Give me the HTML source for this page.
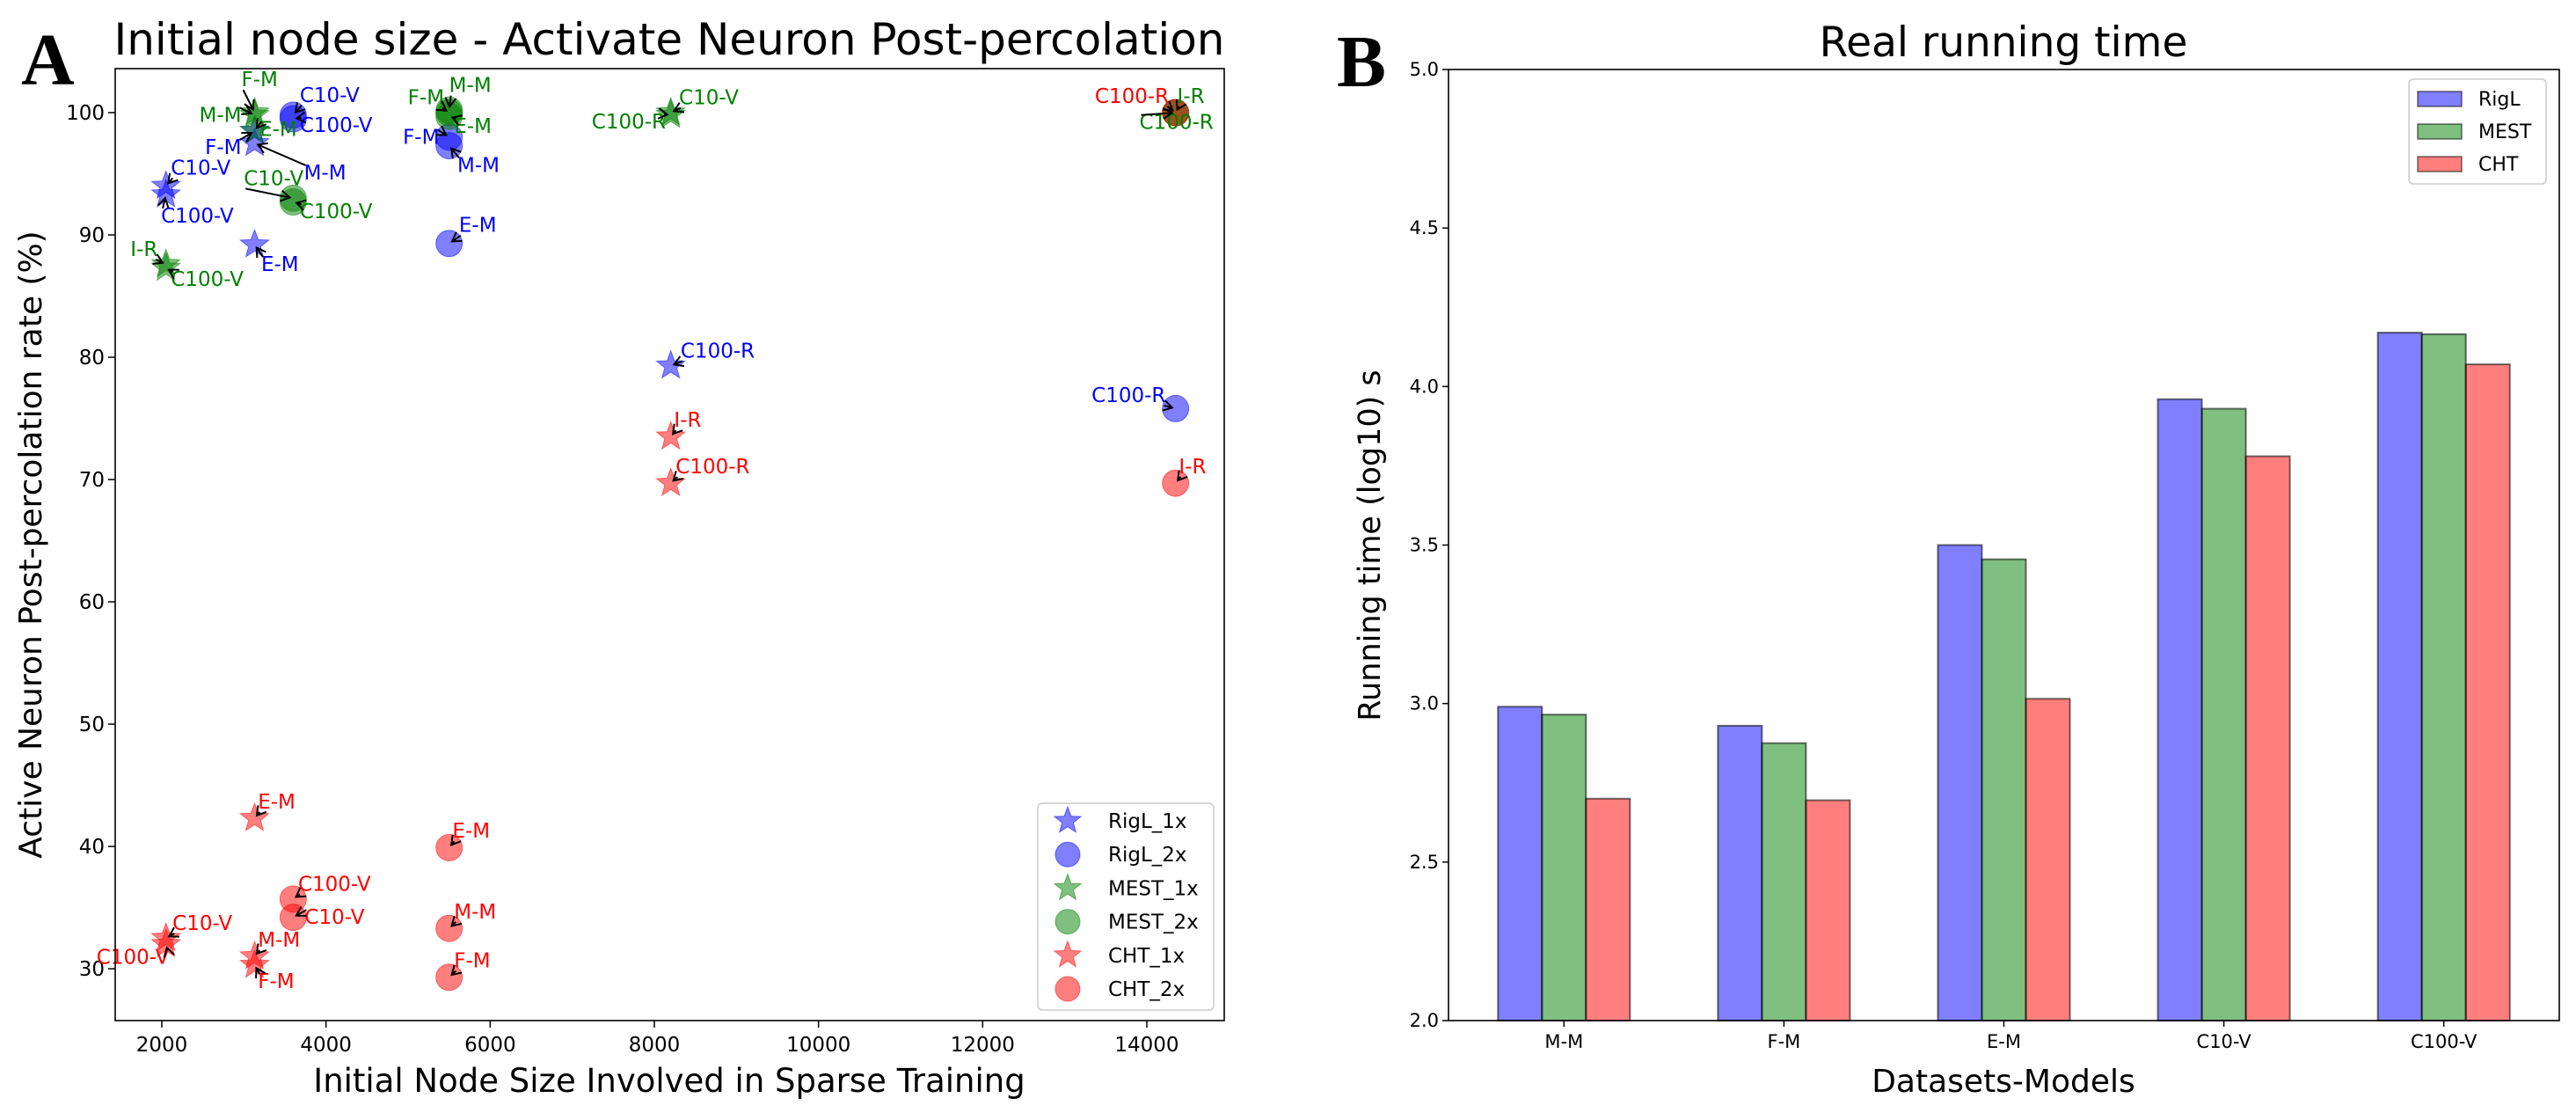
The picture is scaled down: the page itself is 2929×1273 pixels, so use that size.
<!DOCTYPE html>
<html><head><meta charset="utf-8">
<style>
html,body{margin:0;padding:0;background:#fff;}
svg{display:block;font-family:"DejaVu Sans","Liberation Sans",sans-serif;}
</style></head>
<body>
<svg id="fig" width="2929" height="1273" viewBox="0 0 2929 1273" xmlns="http://www.w3.org/2000/svg">
<rect width="2929" height="1273" fill="#fff"/>
<g id="panelA"></g>
<g id="panelB"></g>
</svg>
<script>
// ---------- Panel A data ----------
const seriesNames = ["RigL_1x","RigL_2x","MEST_1x","MEST_2x","CHT_1x","CHT_2x"];
const rigl1X = [2050,2050,3130,3130,3130,8200];
const rigl1Y = [94.0,93.3,98.5,97.5,89.2,79.3];
const rigl1L = ["C10-V","C100-V","F-M","M-M","E-M","C100-R"];
const rigl2X = [3600,3600,5500,5500,5500,14350];
const rigl2Y = [99.8,99.5,98.0,97.3,89.3,75.8];
const rigl2L = ["C10-V","C100-V","F-M","M-M","E-M","C100-R"];
const mest1X = [3130,3130,3130,2050,2050,8200,8200];
const mest1Y = [99.8,100.0,98.5,87.6,87.3,100.0,99.8];
const mest1L = ["M-M","F-M","E-M","I-R","C100-V","C10-V","C100-R"];
const mest2X = [5500,5500,5500,3600,3600,14350,14350];
const mest2Y = [100.2,100.0,99.7,93.0,92.7,100.0,100.0];
const mest2L = ["M-M","F-M","E-M","C10-V","C100-V","I-R","C100-R"];
const cht1X = [8200,8200,3130,2050,2050,3130,3130];
const cht1Y = [73.5,69.7,42.3,32.5,32.0,31.0,30.3];
const cht1L = ["I-R","C100-R","E-M","C10-V","C100-V","M-M","F-M"];
const cht2X = [14350,14350,5500,3600,3600,5500,5500];
const cht2Y = [100.0,69.7,39.9,35.7,34.2,33.3,29.3];
const cht2L = ["C100-R","I-R","E-M","C100-V","C10-V","M-M","F-M"];
const xTicksA = [2000,4000,6000,8000,10000,12000,14000];
const yTicksA = [30,40,50,60,70,80,90,100];

// ---------- Panel B data ----------
const categories = ["M-M","F-M","E-M","C10-V","C100-V"];
const riglTime = [2.99,2.93,3.50,3.96,4.17];
const mestTime = [2.965,2.875,3.455,3.93,4.165];
const chtTime = [2.70,2.695,3.015,3.78,4.07];
const yTicksB = [2.0,2.5,3.0,3.5,4.0,4.5,5.0];

const NS="http://www.w3.org/2000/svg";
function mk(parent,tag,attrs,text){const e=document.createElementNS(NS,tag);for(const k in attrs)e.setAttribute(k,attrs[k]);if(text!==undefined)e.textContent=text;parent.appendChild(e);return e;}

// ===== Panel A =====
const A=document.getElementById('panelA');
const aL=131,aR=1392,aT=78,aB=1160;
const xMinA=1432,xMaxA=14943,yMinA=25.76,yMaxA=103.6;
const sxA=v=>aL+(v-xMinA)/(xMaxA-xMinA)*(aR-aL);
const syA=v=>aB-(v-yMinA)/(yMaxA-yMinA)*(aB-aT);

function starPath(cx,cy,R){const r=R*0.42;let d="";for(let i=0;i<10;i++){const rr=i%2?r:R;const a=-Math.PI/2+i*Math.PI/5;d+=(i?"L":"M")+(cx+rr*Math.cos(a)).toFixed(1)+","+(cy+rr*Math.sin(a)).toFixed(1);}return d+"Z";}

let t;
t=mk(A,'text',{x:761,y:62,'font-size':50,'text-anchor':'middle',fill:'#000'},"Initial node size - Activate Neuron Post-percolation");

t=mk(A,'text',{x:24,y:96,'font-size':84,'font-weight':'bold','font-family':'"Liberation Serif",serif',fill:'#000'},"A");


xTicksA.forEach(v=>{const x=sxA(v);
 const l=mk(A,'line',{x1:x,x2:x,y1:aB,y2:aB+8,stroke:'#000','stroke-width':1.5});
 
 const tx=mk(A,'text',{x:x,y:aB+35,'font-size':23,'text-anchor':'middle'},String(v));
 });
yTicksA.forEach(v=>{const y=syA(v);
 const l=mk(A,'line',{x1:aL-8,x2:aL,y1:y,y2:y,stroke:'#000','stroke-width':1.5});
 
 const tx=mk(A,'text',{x:aL-12,y:y+8,'font-size':23,'text-anchor':'end'},String(v));
 });
t=mk(A,'text',{x:761,y:1241,'font-size':37,'text-anchor':'middle'},"Initial Node Size Involved in Sparse Training");

t=mk(A,'text',{x:0,y:0,'font-size':36,'text-anchor':'middle',transform:'translate(47,619) rotate(-90)'},"Active Neuron Post-percolation rate (%)");


// label offsets (display units, scaled by 1.87), anchor
const offR1=[[3,-7,'start'],[-3,17,'start'],[-8,14,'end'],[30,22,'start'],[4,16,'start'],[6,-5,'start']];
const offR2=[[4,-8,'start'],[4,8,'start'],[-6,4,'end'],[5,16,'start'],[6,-7,'start'],[-6,-4,'end']];
const offM1=[[-8,4,'end'],[-8,-16,'start'],[3,3,'start'],[-5,-5,'end'],[3,11,'start'],[5,-5,'start'],[-3,8,'end']];
const offM2=[[0,-11,'start'],[-3,-5,'end'],[3,10,'start'],[-30,-8,'start'],[4,10,'start'],[1,-6,'start'],[-22,10,'start']];
const offC1=[[2,-6,'start'],[3,-6,'start'],[2,-6,'start'],[4,-5,'start'],[2,12,'end'],[2,-6,'start'],[2,14,'start']];
const offC2=[[-4,-6,'end'],[2,-6,'start'],[2,-6,'start'],[3,-5,'start'],[7,4,'start'],[3,-6,'start'],[3,-6,'start']];

const seriesA=[
 {n:"RigL_1x",x:rigl1X,y:rigl1Y,l:rigl1L,o:offR1,star:true,fill:'rgba(0,0,255,0.5)',tc:'#0000ff'},
 {n:"RigL_2x",x:rigl2X,y:rigl2Y,l:rigl2L,o:offR2,star:false,fill:'rgba(0,0,255,0.5)',tc:'#0000ff'},
 {n:"MEST_1x",x:mest1X,y:mest1Y,l:mest1L,o:offM1,star:true,fill:'rgba(0,128,0,0.5)',tc:'#008000'},
 {n:"MEST_2x",x:mest2X,y:mest2Y,l:mest2L,o:offM2,star:false,fill:'rgba(0,128,0,0.5)',tc:'#008000'},
 {n:"CHT_1x",x:cht1X,y:cht1Y,l:cht1L,o:offC1,star:true,fill:'rgba(255,0,0,0.5)',tc:'#ff0000'},
 {n:"CHT_2x",x:cht2X,y:cht2Y,l:cht2L,o:offC2,star:false,fill:'rgba(255,0,0,0.5)',tc:'#ff0000'}];

const marks=mk(A,'g',{});
const labels=mk(A,'g',{});
seriesA.forEach(s=>{
 s.x.forEach((xv,i)=>{
  const cx=sxA(xv),cy=syA(s.y[i]);
  let m;
  if(s.star){m=mk(marks,'path',{d:starPath(cx,cy,17),fill:s.fill,stroke:s.fill,'stroke-width':1});}
  else{m=mk(marks,'circle',{cx:cx,cy:cy,r:15,fill:s.fill,stroke:s.fill,'stroke-width':1});}
  
  
  const o=s.o[i]||[3,-6,'start'];
  const tx=cx+o[0]*1.87,ty=cy+o[1]*1.87;
  const lab=mk(labels,'text',{x:tx,y:ty,'font-size':23,'text-anchor':o[2],fill:s.tc},s.l[i]);
  
  
  const ax=tx+(o[2]==='end'?-2:2),ay=ty+(o[1]<0?4:-16);
  const dx=cx-ax,dy=cy-ay,len=Math.hypot(dx,dy)||1;
  const ex=cx-dx/len*4,ey=cy-dy/len*4;
  const ar=mk(labels,'line',{x1:ax,y1:ay,x2:ex,y2:ey,stroke:'#000','stroke-width':2});
  
  
  const ux=dx/len,uy=dy/len,hx=ex-ux*10,hy=ey-uy*10;
  const ah=mk(labels,'polyline',{points:`${hx-uy*6},${hy+ux*6} ${ex},${ey} ${hx+uy*6},${hy-ux*6}`,fill:'none',stroke:'#000','stroke-width':2});
  
  
 });
});
t=mk(A,'rect',{x:aL,y:aT,width:aR-aL,height:aB-aT,fill:'none',stroke:'#000','stroke-width':1.6});


// legend A
const legA=mk(A,'g',{});

mk(legA,'rect',{x:1180,y:913,width:200,height:235,rx:5,fill:'rgba(255,255,255,0.8)',stroke:'#ccc','stroke-width':1.5});
seriesA.forEach((s,i)=>{const y=933+i*38.2;
 const g=mk(legA,'g',{});
 
 if(s.star)mk(g,'path',{d:starPath(1214,y,16),fill:s.fill,stroke:s.fill});
 else mk(g,'circle',{cx:1214,cy:y,r:14,fill:s.fill,stroke:s.fill});
 mk(g,'text',{x:1260,y:y+8,'font-size':23},s.n);});

// ===== Panel B =====
const B=document.getElementById('panelB');
const bL=1647,bR=2910,bT=79,bB=1160;
const xMinB=-0.525,xMaxB=4.525,yMinB=2,yMaxB=5;
const sxB=v=>bL+(v-xMinB)/(xMaxB-xMinB)*(bR-bL);
const syB=v=>bB-(v-yMinB)/(yMaxB-yMinB)*(bB-bT);
const bw=0.2;
t=mk(B,'text',{x:2278,y:64,'font-size':47,'text-anchor':'middle'},"Real running time");

t=mk(B,'text',{x:1520,y:98,'font-size':84,'font-weight':'bold','font-family':'"Liberation Serif",serif'},"B");

const seriesB=[{n:"RigL",v:riglTime,f:'rgba(0,0,255,0.5)',o:-bw},{n:"MEST",v:mestTime,f:'rgba(0,128,0,0.5)',o:0},{n:"CHT",v:chtTime,f:'rgba(255,0,0,0.5)',o:bw}];
seriesB.forEach(s=>{s.v.forEach((v,i)=>{
 const x0=sxB(i+s.o-bw/2),x1=sxB(i+s.o+bw/2),y=syB(v);
 const r=mk(B,'rect',{x:x0,y:y,width:x1-x0,height:bB-y,fill:s.f,stroke:'rgba(0,0,0,0.55)','stroke-width':2});
 
 });});
categories.forEach((c,i)=>{const x=sxB(i);
 const l=mk(B,'line',{x1:x,x2:x,y1:bB,y2:bB+7,stroke:'#000','stroke-width':1.5});
 
 const tx=mk(B,'text',{x:x,y:bB+31,'font-size':21,'text-anchor':'middle'},c);
 });
yTicksB.forEach(v=>{const y=syB(v);
 const l=mk(B,'line',{x1:bL-7,x2:bL,y1:y,y2:y,stroke:'#000','stroke-width':1.5});
 
 const tx=mk(B,'text',{x:bL-11,y:y+7,'font-size':21,'text-anchor':'end'},v.toFixed(1));
 });
t=mk(B,'rect',{x:bL,y:bT,width:bR-bL,height:bB-bT,fill:'none',stroke:'#000','stroke-width':1.6});

t=mk(B,'text',{x:2278,y:1241,'font-size':36,'text-anchor':'middle'},"Datasets-Models");

t=mk(B,'text',{x:0,y:0,'font-size':35,'text-anchor':'middle',transform:'translate(1569,620) rotate(-90)'},"Running time (log10) s");

const legB=mk(B,'g',{});

mk(legB,'rect',{x:2739,y:90,width:156,height:119,rx:5,fill:'#fff',stroke:'#ccc','stroke-width':1.5});
seriesB.forEach((s,i)=>{const y=112+i*37;
 const g=mk(legB,'g',{});
 
 mk(g,'rect',{x:2749,y:y-8,width:50,height:17,fill:s.f,stroke:'rgba(0,0,0,0.55)','stroke-width':1.5});
 mk(g,'text',{x:2818,y:y+8,'font-size':22},s.n);});
</script>
</body></html>
